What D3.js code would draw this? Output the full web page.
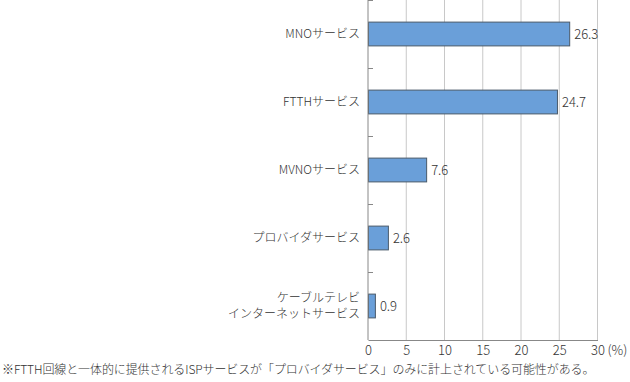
<!DOCTYPE html>
<html>
<head>
<meta charset="utf-8">
<script src="https://cdn.jsdelivr.net/npm/d3@7"></script>
<style>
body{margin:0;background:#fff;}
text{font-family:"Noto Sans CJK JP","Noto Sans",sans-serif;fill:#333;font-weight:300;}
</style>
</head>
<body>
<div id="chart"></div>
<script>
//chart data
let categories=[[`MNOサービス`],[`FTTHサービス`],[`MVNOサービス`],[`プロバイダサービス`],[`ケーブルテレビ`,`インターネットサービス`]];
let values=[26.3,24.7,7.6,2.6,0.9];
let xTicks=[0,5,10,15,20,25,30];
let note=`※FTTH回線と一体的に提供されるISPサービスが「プロバイダサービス」のみに計上されている可能性がある。`;

let format={width:630,height:382,margin:{left:368,top:0,right:32,bottom:42}};
let h=340-format.margin.top;

let svg=d3.select(`#chart`).append(`svg`)
    .attr(`width`,format.width)
    .attr(`height`,format.height);
let graph=svg.append(`g`)
    .attr(`transform`,`translate(${format.margin.left},${format.margin.top})`);

let x=d3.scaleLinear().domain([0,30]).range([0,229.5]);
let y=d3.scaleBand().domain(d3.range(values.length)).range([0,h]).paddingInner(0.65).paddingOuter(0.325);
let yEdge=d3.scaleLinear().domain([0,values.length]).range([0,h]);

//vertical grid lines
graph.append(`g`).selectAll(`line`)
    .data(xTicks.slice(1))
    .enter().append(`line`)
    .attr(`x1`,d=>x(d)).attr(`x2`,d=>x(d))
    .attr(`y1`,0).attr(`y2`,h)
    .attr(`stroke`,`#c8c8c8`).attr(`stroke-width`,1);

//bars
graph.append(`g`).selectAll(`rect`)
    .data(values)
    .enter().append(`rect`)
    .attr(`x`,0.5)
    .attr(`y`,(d,i)=>y(i))
    .attr(`width`,d=>x(d))
    .attr(`height`,y.bandwidth())
    .attr(`fill`,`#6a9fd9`)
    .attr(`stroke`,`#4a5a6a`)
    .attr(`stroke-width`,1);

//value labels
graph.append(`g`).selectAll(`text`)
    .data(values)
    .enter().append(`text`)
    .attr(`x`,d=>x(d)+5)
    .attr(`y`,(d,i)=>y(i)+y.bandwidth()/2)
    .attr(`dy`,`0.35em`)
    .attr(`font-size`,13)
    .text(d=>d.toFixed(1));

//y axis line and inner ticks
graph.append(`line`)
    .attr(`x1`,0).attr(`x2`,0).attr(`y1`,0).attr(`y2`,h)
    .attr(`stroke`,`#888`).attr(`stroke-width`,1);
graph.append(`g`).selectAll(`line`)
    .data(d3.range(values.length))
    .enter().append(`line`)
    .attr(`x1`,0).attr(`x2`,5)
    .attr(`y1`,d=>yEdge(d)+0.5).attr(`y2`,d=>yEdge(d)+0.5)
    .attr(`stroke`,`#888`);

//category labels
let cat=graph.append(`g`).selectAll(`text`)
    .data(categories)
    .enter().append(`text`)
    .attr(`x`,-8)
    .attr(`y`,(d,i)=>y(i)+y.bandwidth()/2)
    .attr(`text-anchor`,`end`)
    .attr(`font-size`,12);
cat.selectAll(`tspan`)
    .data(d=>d.map((t,k)=>({t,k,n:d.length})))
    .enter().append(`tspan`)
    .attr(`x`,-8)
    .attr(`y`,function(d){return d3.select(this.parentNode).attr(`y`);})
    .attr(`dy`,d=>`${0.35+(d.k-(d.n-1)/2)*1.35}em`)
    .text(d=>d.t);

//x axis
let xAxis=graph.append(`g`)
    .attr(`transform`,`translate(0,${h})`)
    .call(d3.axisBottom(x).tickValues(xTicks).tickSize(0).tickPadding(6));
xAxis.select(`.domain`).attr(`stroke`,`#888`);
xAxis.selectAll(`text`).attr(`font-size`,13).attr(`fill`,`#333`).attr(`font-family`,`"Noto Sans CJK JP",sans-serif`);

graph.append(`text`)
    .attr(`x`,x(30)+10)
    .attr(`y`,h+6)
    .attr(`dy`,`0.71em`)
    .attr(`font-size`,13)
    .text(`(%)`);

//footnote
svg.append(`text`)
    .attr(`x`,2)
    .attr(`y`,370)
    .attr(`dy`,`0.35em`)
    .attr(`font-size`,12)
    .attr(`letter-spacing`,-0.1)
    .text(note);
</script>
</body>
</html>
